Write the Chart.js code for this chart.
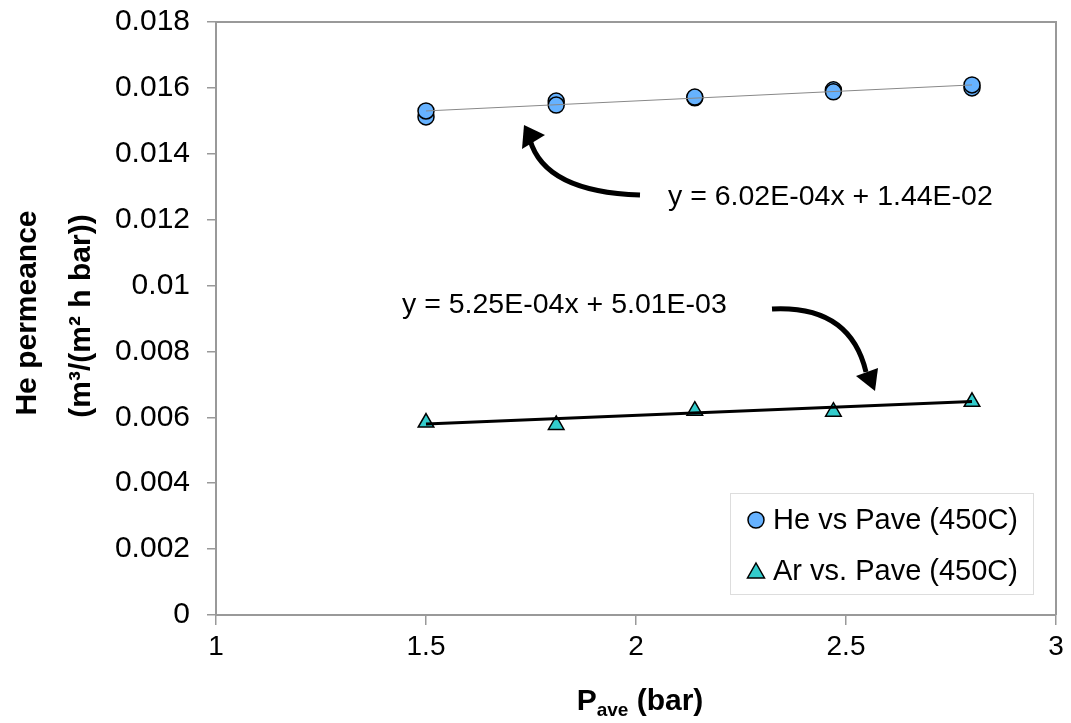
<!DOCTYPE html>
<html lang="en">
<head>
    <meta charset="UTF-8">
    <title>He permeance vs Pave</title>
    <script src="https://cdn.jsdelivr.net/npm/chart.js"></script>
    <style>
        body {
            margin: 0;
            background: #fff;
        }
        #wrap {
            width: 1071px;
            height: 723px;
        }
    </style>
</head>
<body>
    <div id="wrap"><canvas id="permChart" width="1071" height="723"></canvas></div>
    <script>
        // Helium points (repeat runs at each pressure)
        const heP = [1.5, 1.5, 1.81, 1.81, 2.14, 2.14, 2.47, 2.47, 2.8, 2.8];
        const hePerm = [0.01512, 0.0153, 0.0156, 0.01548, 0.0157, 0.01572, 0.01594, 0.01588, 0.016, 0.01609];

        // Argon points
        const arP = [1.5, 1.81, 2.14, 2.47, 2.8];
        const arPerm = [0.00584, 0.00577, 0.0062, 0.00617, 0.00647];

        // trendline ends as drawn
        const trendP = [1.5, 2.8];
        const heTrend = [0.0153, 0.01609];
        const arTrend = [0.0058, 0.00648];

        const xTicks = [1, 1.5, 2, 2.5, 3];
        const xTickLabels = ['1', '1.5', '2', '2.5', '3'];
        const yTickLabels = ['0', '0.002', '0.004', '0.006', '0.008', '0.01', '0.012', '0.014', '0.016', '0.018'];

        const heLabel = 'He vs Pave (450C)';
        const arLabel = 'Ar vs. Pave (450C)';
        const heEq = 'y = 6.02E-04x + 1.44E-02';
        const arEq = 'y = 5.25E-04x + 5.01E-03';

        const FONT = "'Liberation Sans', Arial, sans-serif";
        const HE_COLOR = '#66b2ff';
        const AR_COLOR = '#33cccc';

        const pts = (xs, ys) => xs.map((x, i) => ({ x: x, y: ys[i] }));

        function arrow(ctx, from, ctrl, to, head) {
            ctx.save();
            ctx.strokeStyle = '#000';
            ctx.fillStyle = '#000';
            ctx.lineWidth = 5;
            ctx.beginPath();
            ctx.moveTo(from[0], from[1]);
            ctx.quadraticCurveTo(ctrl[0], ctrl[1], to[0], to[1]);
            ctx.stroke();
            ctx.beginPath();
            ctx.moveTo(head[0][0], head[0][1]);
            ctx.lineTo(head[1][0], head[1][1]);
            ctx.lineTo(head[2][0], head[2][1]);
            ctx.closePath();
            ctx.fill();
            ctx.restore();
        }

        const extras = {
            id: 'extras',
            afterDraw(chart) {
                const ctx = chart.ctx;
                const a = chart.chartArea;
                ctx.save();

                // top and right frame
                ctx.strokeStyle = '#999';
                ctx.lineWidth = 2;
                ctx.beginPath();
                ctx.moveTo(a.left, a.top);
                ctx.lineTo(a.right, a.top);
                ctx.lineTo(a.right, a.bottom);
                ctx.stroke();

                // y title
                ctx.fillStyle = '#000';
                ctx.textAlign = 'center';
                ctx.textBaseline = 'middle';
                ctx.font = 'bold 30px ' + FONT;
                ctx.save();
                ctx.translate(28, 313);
                ctx.rotate(-Math.PI / 2);
                ctx.fillText('He permeance', 0, 0);
                ctx.restore();
                ctx.save();
                ctx.translate(82, 316);
                ctx.rotate(-Math.PI / 2);
                ctx.fillText('(m\u00b3/(m\u00b2 h bar))', 0, 0);
                ctx.restore();

                // x title with subscript
                ctx.textAlign = 'left';
                ctx.textBaseline = 'alphabetic';
                ctx.font = 'bold 30px ' + FONT;
                const wP = ctx.measureText('P').width;
                const wRest = ctx.measureText(' (bar)').width;
                ctx.font = 'bold 19px ' + FONT;
                const wSub = ctx.measureText('ave').width;
                let x0 = 640 - (wP + wSub + wRest) / 2;
                ctx.font = 'bold 30px ' + FONT;
                ctx.fillText('P', x0, 710);
                ctx.font = 'bold 19px ' + FONT;
                ctx.fillText('ave', x0 + wP, 716);
                ctx.font = 'bold 30px ' + FONT;
                ctx.fillText(' (bar)', x0 + wP + wSub, 710);

                // equations
                ctx.font = '28.5px ' + FONT;
                ctx.textBaseline = 'middle';
                ctx.fillText(heEq, 668, 197);
                ctx.fillText(arEq, 402, 305);

                // arrows
                arrow(ctx, [640, 195], [545, 192], [530, 140], [[524, 125], [522, 149], [545, 135]]);
                arrow(ctx, [772, 309], [850, 305], [866, 372], [[875, 391], [856, 376], [878, 368]]);

                // legend
                ctx.fillStyle = '#fff';
                ctx.fillRect(730, 493, 303, 101);
                ctx.strokeStyle = '#ddd';
                ctx.lineWidth = 1;
                ctx.strokeRect(730.5, 493.5, 303, 101);

                ctx.lineWidth = 1.5;
                ctx.strokeStyle = '#000';
                ctx.fillStyle = HE_COLOR;
                ctx.beginPath();
                ctx.arc(756, 520, 8, 0, Math.PI * 2);
                ctx.fill();
                ctx.stroke();

                ctx.fillStyle = AR_COLOR;
                ctx.beginPath();
                ctx.moveTo(756, 563);
                ctx.lineTo(764.5, 578);
                ctx.lineTo(747.5, 578);
                ctx.closePath();
                ctx.fill();
                ctx.stroke();

                ctx.fillStyle = '#000';
                ctx.font = '29px ' + FONT;
                ctx.fillText(heLabel, 773, 521);
                ctx.fillText(arLabel, 773, 572);

                ctx.restore();
            }
        };

        const ctx = document.getElementById('permChart').getContext('2d');
        new Chart(ctx, {
            type: 'scatter',
            data: {
                datasets: [{
                    label: 'He trend',
                    data: pts(trendP, heTrend),
                    showLine: true,
                    borderColor: '#888',
                    borderWidth: 1,
                    pointRadius: 0
                }, {
                    label: 'Ar trend',
                    data: pts(trendP, arTrend),
                    showLine: true,
                    borderColor: '#000',
                    borderWidth: 3,
                    pointRadius: 0
                }, {
                    label: heLabel,
                    data: pts(heP, hePerm),
                    pointStyle: 'circle',
                    pointRadius: 8,
                    pointBackgroundColor: HE_COLOR,
                    pointBorderColor: '#000',
                    pointBorderWidth: 1.5
                }, {
                    label: arLabel,
                    data: pts(arP, arPerm),
                    pointStyle: 'triangle',
                    pointRadius: 9,
                    pointBackgroundColor: AR_COLOR,
                    pointBorderColor: '#000',
                    pointBorderWidth: 1.5
                }]
            },
            options: {
                responsive: false,
                animation: false,
                layout: {
                    padding: { left: 0, top: 22, right: 15, bottom: 0 }
                },
                plugins: {
                    legend: { display: false },
                    tooltip: { enabled: false }
                },
                scales: {
                    x: {
                        type: 'linear',
                        min: 1,
                        max: 3,
                        afterFit: s => {
                            s.height = 108;
                            s.paddingLeft = 0;
                            s.paddingRight = 0;
                        },
                        afterBuildTicks: s => { s.ticks = xTicks.map(v => ({ value: v })); },
                        ticks: {
                            color: '#000',
                            padding: 5,
                            maxRotation: 0,
                            font: { family: FONT, size: 28 },
                            callback: (v, i) => xTickLabels[i]
                        },
                        grid: {
                            drawOnChartArea: false,
                            drawTicks: true,
                            tickLength: 10,
                            tickColor: '#999',
                            lineWidth: 1.5
                        },
                        border: { color: '#999', width: 2 }
                    },
                    y: {
                        min: 0,
                        max: 0.018,
                        afterFit: s => {
                            s.width = 216;
                            s.paddingTop = 0;
                            s.paddingBottom = 0;
                        },
                        ticks: {
                            stepSize: 0.002,
                            color: '#000',
                            padding: 17,
                            font: { family: FONT, size: 30 },
                            callback: (v, i) => yTickLabels[i]
                        },
                        grid: {
                            drawOnChartArea: false,
                            drawTicks: true,
                            tickLength: 9,
                            tickColor: '#999',
                            lineWidth: 1.5
                        },
                        border: { color: '#999', width: 2 }
                    }
                }
            },
            plugins: [extras]
        });
    </script>
</body>
</html>
